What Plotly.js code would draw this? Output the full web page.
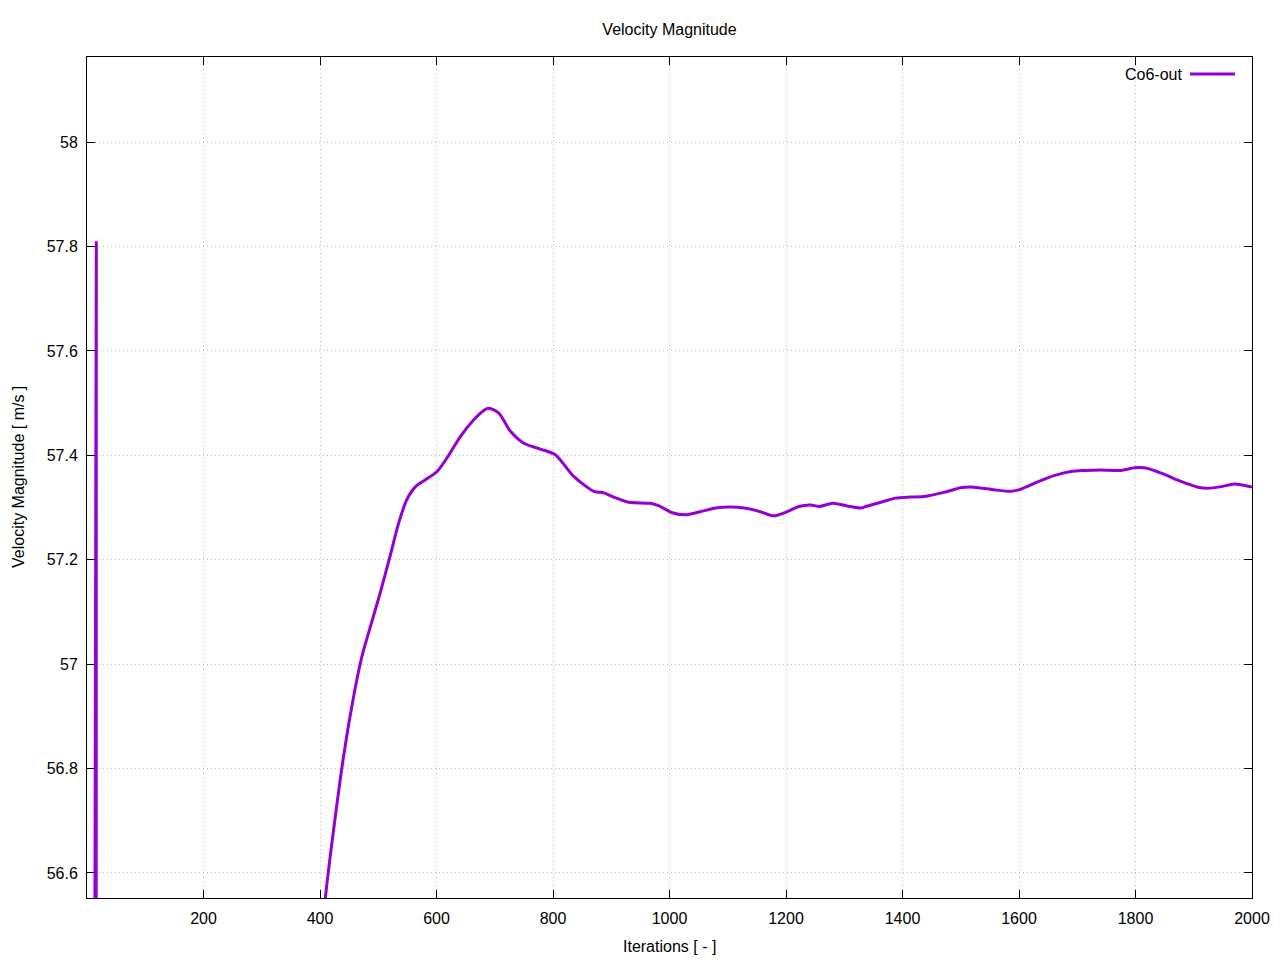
<!DOCTYPE html>
<html>
<head>
<meta charset="utf-8">
<script src="https://cdn.plot.ly/plotly-3.0.1.min.js"></script>
<style>html,body{margin:0;padding:0;background:#fff;}#chart{width:1280px;height:960px;}</style>
</head>
<body>
<div id="chart"></div>
<script>
var seriesName = 'Co6-out';
var iterations = [15,16,17,60,150,250,330,380,409,440,458,472,486,503,521,535,549,564,581,601,618,641,664,680,690,707,727,750,778,804,836,870,887,904,930,967,982,1005,1027,1053,1079,1105,1128,1156,1179,1202,1222,1242,1257,1280,1305,1328,1337,1363,1388,1414,1437,1471,1500,1523,1557,1586,1603,1632,1660,1689,1712,1741,1775,1798,1815,1844,1878,1907,1924,1947,1970,2000];
var velocity = [50.0,57.81,50.5,51.5,52.8,54.2,55.4,56.15,56.55,56.82,56.94,57.015,57.07,57.135,57.21,57.27,57.315,57.34,57.353,57.369,57.395,57.436,57.468,57.485,57.49,57.481,57.446,57.423,57.412,57.401,57.359,57.331,57.328,57.32,57.31,57.308,57.303,57.29,57.286,57.292,57.299,57.301,57.299,57.292,57.284,57.292,57.302,57.305,57.302,57.308,57.303,57.299,57.302,57.31,57.318,57.32,57.321,57.329,57.338,57.339,57.334,57.331,57.335,57.349,57.361,57.369,57.371,57.372,57.371,57.376,57.376,57.366,57.35,57.339,57.337,57.34,57.345,57.339];
var xTicks = [200,400,600,800,1000,1200,1400,1600,1800,2000];
var yTicks = [56.6,56.8,57,57.2,57.4,57.6,57.8,58];
var yTickLabels = ['56.6','56.8','57','57.2','57.4','57.6','57.8','58'];

var lineColor = '#9400d3';
var fontFam = 'Liberation Sans, Arial, sans-serif';

var trace = {
  x: iterations, y: velocity, type: 'scatter', mode: 'lines', name: seriesName,
  line: {color: lineColor, width: 3, shape: 'spline', smoothing: 0.7}, showlegend: false
};

var axisCommon = {
  showline: true, linecolor: '#000', linewidth: 1, mirror: 'ticks',
  ticks: 'inside', ticklen: 8, tickwidth: 1, tickcolor: '#000',
  showgrid: true, gridcolor: '#bdbdbd', gridwidth: 1, griddash: '1px,3px',
  zeroline: false, tickfont: {family: fontFam, size: 16, color: '#000'}
};

var layout = {
  width: 1280, height: 960,
  paper_bgcolor: '#fff', plot_bgcolor: '#fff',
  margin: {l: 87, r: 28, t: 57, b: 62, pad: 0},
  font: {family: fontFam, size: 16, color: '#000'},
  title: {text: 'Velocity Magnitude', font: {family: fontFam, size: 16, color: '#000'},
          xref: 'paper', x: 0.5, xanchor: 'center', yref: 'container', y: 1 - 29/960, yanchor: 'middle'},
  xaxis: Object.assign({}, axisCommon, {range: [0, 2000], tickmode: 'array', tickvals: xTicks,
          ticktext: xTicks.map(String), ticklabelstandoff: 6, automargin: false}),
  yaxis: Object.assign({}, axisCommon, {range: [56.552, 58.163], tickmode: 'array', tickvals: yTicks,
          ticktext: yTickLabels, ticklabelstandoff: 5, automargin: false}),
  annotations: [
    {text: 'Iterations [ - ]', xref: 'paper', yref: 'paper', x: 0.5, y: -48/841, xanchor: 'center', yanchor: 'middle',
     showarrow: false, font: {family: fontFam, size: 16, color: '#000'}},
    {text: 'Velocity Magnitude [ m/s ]', xref: 'paper', yref: 'paper', x: -68.5/1165, y: 0.5, xanchor: 'center', yanchor: 'middle',
     textangle: -90, showarrow: false, font: {family: fontFam, size: 16, color: '#000'}},
    {text: seriesName, xref: 'paper', yref: 'paper', x: (1184-87)/1165, y: 1 - 17/841, xanchor: 'right', yanchor: 'middle',
     showarrow: false, font: {family: fontFam, size: 16, color: '#000'}}
  ],
  shapes: [
    {type: 'line', xref: 'paper', yref: 'paper', x0: (1190-87)/1165, x1: (1235-87)/1165, y0: 1 - 17/841, y1: 1 - 17/841,
     line: {color: lineColor, width: 3}}
  ]
};

Plotly.newPlot('chart', [trace], layout, {displayModeBar: false, staticPlot: true});
</script>
</body>
</html>
